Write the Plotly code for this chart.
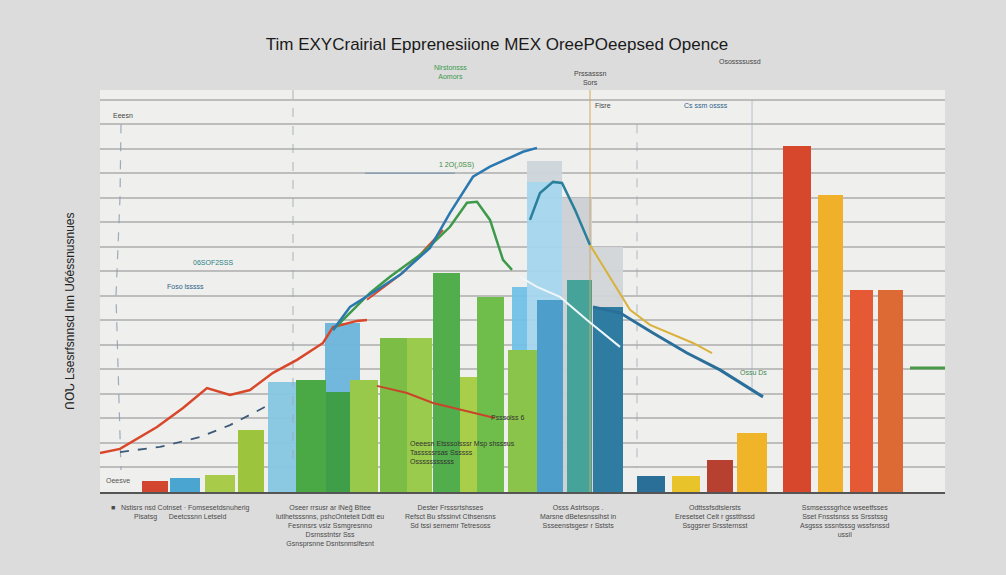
import plotly.graph_objects as go

# ---------------- data ----------------
TITLE = "Tim EXYCrairial Epprenesiione MEX OreePOeepsed Opence"
Y_LABEL = "ՈՕՆ Lsesrfsnnsd Inn Uőéssnusnues"

# background (translucent / pale) bars
back_x = [18.25, 24.25, 42.35, 44.45, 44.45, 47.7, 50.75]
back_w = [2.9, 3.5, 2.3, 3.5, 3.5, 3.0, 3.1]
back_h = [4.5, 6.9, 8.37, 13.5, 12.65, 12.0, 10.0]
back_c = ["#86c7e3", "#6cb6dc", "#72c2e8", "#cfd6dc", "#a5d6ef", "#cdd1d5", "#d3d6d9"]

# foreground bars
bar_x = [5.5, 8.5, 12.0, 15.1, 21.1, 23.8, 26.4, 29.35, 31.95, 34.65, 36.85, 39.05,
         42.25, 45.0, 47.95, 50.8, 55.1, 58.6, 62.0, 65.2, 69.7, 73.05, 76.15, 79.05]
bar_w = [2.6, 3.0, 3.0, 2.6, 3.0, 2.4, 2.8, 2.7, 2.5, 2.7, 1.7, 2.7,
         2.9, 2.6, 2.5, 3.0, 2.8, 2.8, 2.6, 3.0, 2.8, 2.5, 2.3, 2.5]
bar_h = [0.45, 0.57, 0.7, 2.53, 4.57, 4.1, 4.57, 6.3, 6.3, 8.94, 4.7, 7.96,
         5.8, 7.84, 8.65, 7.55, 0.65, 0.65, 1.3, 2.4, 14.1, 12.1, 8.25, 8.25]
bar_c = ["#d2452e", "#4aa6d0", "#a8cc4a", "#9cc43c", "#4aa845", "#3f9e48", "#98c94a",
         "#7cbd46", "#9bcb4c", "#52ad4c", "#a9cf4a", "#6fbe4b", "#8ac44a", "#4d9ecb",
         "#45a39a", "#2f7ca3", "#2a6f98", "#e8c42a", "#b84030", "#f0b429", "#d6472b",
         "#f0b02a", "#e55a35", "#dd6a35"]

# lines
red_x = [0, 2, 5.7, 8.3, 10.7, 13, 15, 17.3, 19.7, 22.3, 23.3, 25.7, 26.7]
red_y = [1.59, 1.76, 2.65, 3.43, 4.24, 3.96, 4.16, 4.86, 5.39, 6.08, 6.73, 6.98, 7.02]
red2_x = [26.7, 30.3, 34.3]
red2_y = [7.84, 8.94, 10.69]
red3_x = [27.7, 30.7, 33.3, 38, 39.5]
red3_y = [4.33, 4.04, 3.63, 3.18, 3.02]
green_x = [23.3, 27, 29, 32.3, 35, 36.7, 37.7, 39, 40.3, 41.2]
green_y = [6.61, 8.12, 8.78, 9.76, 10.82, 11.8, 11.84, 11.1, 9.47, 9.06]
blue_x = [23.3, 25, 27.7, 30, 33, 35, 37.3, 39, 42.3, 43.7]
blue_y = [6.61, 7.55, 8.24, 8.86, 9.96, 11.39, 12.86, 13.27, 13.88, 14.04]
teal_x = [43, 44, 45.3, 46.2, 47.5, 49]
teal_y = [11.1, 12.2, 12.65, 12.61, 11.51, 10.08]
yellow_x = [49, 50.7, 53, 55, 56.7, 59.3, 61.2]
yellow_y = [10.08, 8.94, 7.43, 6.82, 6.53, 6.08, 5.67]
blue2_x = [49.3, 52, 55.3, 58.7, 62, 66.3]
blue2_y = [7.55, 7.31, 6.49, 5.67, 4.98, 3.88]
pale_x = [42, 43.7, 46, 48.7, 52]
pale_y = [8.78, 8.37, 7.96, 7.02, 5.92]
dash_x = [2, 6, 10, 13, 16.5]
dash_y = [1.63, 1.84, 2.24, 2.73, 3.47]

# decorative guide lines
vline1_x = [2.1, 2.0, 1.6, 1.9, 2.1]
vline1_y = [15.0, 12.0, 8.0, 4.0, 0.9]
vline2_x = [19.3, 19.3]
vline2_y = [16.4, 1.0]
vline3_x = [49.0, 49.0]
vline3_y = [16.4, 0.0]
vline4_x = [53.7, 53.7]
vline4_y = [15.0, 1.0]
vline5_x = [65.2, 65.2]
vline5_y = [16.0, 4.0]
hline_x = [26.5, 35.5]
hline_y = [13.0, 13.0]
rline_x = [81.0, 84.5]
rline_y = [5.06, 5.06]

# bottom category labels
cat_x = [8.0, 23.0, 35.0, 47.8, 61.5, 74.5]
cat_text = [
    "■   Nstisrs nsd Cotnset · Fomsesetdsnuherig<br>Pisatsg      Deetcssnn Letseld",
    "Oseer rrsusr ar lNeğ Bttee<br>lutlhetsssnns, pshcOnteteit Ddtt eu<br>Fesnnsrs vsiz Ssmgresnno<br>Dsrnsstntsr Sss<br>Gsnsprsnne Dsntsnmslfesnt",
    "Dester Frsssrtshsses<br>Refsct Bu sfssinvt Cthsensns<br>Sd tssi sernemr Tetresoss",
    "Osss Astrtsops .<br>Marsne dBetesnssihst in<br>Ssseenstsgesr r Sststs",
    "Odttssfsdtslersts<br>Eresetset Celt r gsstthssd<br>Ssggsrer Srssternsst",
    "Ssmsesssgrhce wseetfsses<br>Sset Fnsstsnss ss Srsstssg<br>Asgsss sssntsssg wssfsnssd<br>ussil",
]

# in-plot notes
note_x = [2.3, 11.3, 8.5, 35.6, 40.8, 30.8, 1.8, 65.3, 50.3, 60.6]
note_y = [15.35, 9.35, 8.4, 13.35, 3.02, 2.2, 0.45, 4.86, 15.76, 15.76]
note_t = ["Eeesn", "06SOF2SSS", "Foso lsssss", "1 2O(,0SS)", "Psssolss 6",
          "Oeeesn Etsssolsssr Msp shsssus<br>Tasssssrsas Ssssss<br>Osssssssssss",
          "Oeesve", "Ossu Ds", "Fisre", "Cs ssm ossss"]
note_c = ["#444444", "#2a7f86", "#2a5f8a", "#3a8a3a", "#333333", "#333333",
          "#555555", "#3d8a50", "#444444", "#2a5f8a"]

# notes above the sheet
top_x = [35.0, 49.0, 64.0]
top_t = ["Nlrstonsss<br>Aomors", "Prssasssn<br>Sors", "Osossssussd"]
top_c = ["#3a9a4a", "#444444", "#444444"]
top_y = [1.045, 1.03, 1.07]

# ---------------- figure ----------------
fig = go.Figure()

fig.add_trace(go.Bar(x=back_x, y=back_h, width=back_w, marker_color=back_c,
                     marker_line_width=0, opacity=0.95, showlegend=False))
fig.add_trace(go.Bar(x=bar_x, y=bar_h, width=bar_w, marker_color=bar_c,
                     marker_line_width=0, showlegend=False))

def line(x, y, color, w, dash="solid", opacity=1.0):
    fig.add_trace(go.Scatter(x=x, y=y, mode="lines", showlegend=False,
                             line=dict(color=color, width=w, dash=dash),
                             opacity=opacity, hoverinfo="skip"))

line(vline1_x, vline1_y, "#8a9bb0", 1.2, "dash", 0.8)
line(vline2_x, vline2_y, "#9aa5b0", 1.0, "dash", 0.8)
line(vline3_x, vline3_y, "#d8a85a", 1.2, "solid", 0.8)
line(vline4_x, vline4_y, "#9aa5b0", 1.0, "dash", 0.7)
line(vline5_x, vline5_y, "#9ab0c4", 1.0, "solid", 0.7)
line(hline_x, hline_y, "#7f9ab0", 1.5, "solid", 0.8)
line(rline_x, rline_y, "#4a9a4a", 3.0)

line(dash_x, dash_y, "#3d5a78", 1.8, "dash")
line(pale_x, pale_y, "#eef6fa", 2.0)
line(red_x, red_y, "#d9472b", 2.5)
line(red2_x, red2_y, "#d9472b", 2.0)
line(red3_x, red3_y, "#c9442a", 2.0)
line(green_x, green_y, "#3d9a4a", 2.5)
line(blue_x, blue_y, "#2a78b0", 2.5)
line(teal_x, teal_y, "#2a7f9a", 2.5)
line(yellow_x, yellow_y, "#d8b23a", 2.0)
line(blue2_x, blue2_y, "#2a6f9a", 3.0)

annotations = []
for x, t in zip(cat_x, cat_text):
    annotations.append(dict(x=x, y=-0.025, xref="x", yref="paper", text=t,
                            showarrow=False, xanchor="center", yanchor="top",
                            align="center", font=dict(size=7, color="#4a4a4a",
                                                      family="Liberation Sans")))
for x, y, t, c in zip(note_x, note_y, note_t, note_c):
    annotations.append(dict(x=x, y=y, xref="x", yref="y", text=t, showarrow=False,
                            xanchor="left" if "<br>" in t else "center",
                            yanchor="top" if "<br>" in t else "middle", align="left",
                            font=dict(size=7, color=c, family="Liberation Sans")))
for x, y, t, c in zip(top_x, top_y, top_t, top_c):
    annotations.append(dict(x=x, y=y, xref="x", yref="paper", text=t, showarrow=False,
                            xanchor="center", yanchor="middle",
                            font=dict(size=7, color=c, family="Liberation Sans")))
annotations.append(dict(x=-0.046, y=0.45, xref="paper", yref="paper", text=Y_LABEL,
                        textangle=-90, showarrow=False,
                        font=dict(size=12, color="#222222", family="Liberation Sans")))

fig.update_layout(
    width=1006, height=575,
    margin=dict(l=100, r=61, t=90, b=83),
    paper_bgcolor="#dcdcdc",
    plot_bgcolor="#efefed",
    barmode="overlay",
    bargap=0,
    title=dict(text=TITLE, x=0.494, y=0.923, xref="container", yref="container",
               xanchor="center", yanchor="middle",
               font=dict(size=17, color="#1a1a1a", family="Liberation Sans")),
    xaxis=dict(range=[0, 84.5], showgrid=False, zeroline=False, showticklabels=False,
               ticks="", showline=True, linecolor="#555555", linewidth=2),
    yaxis=dict(range=[0, 16.4], dtick=1, showgrid=True, gridcolor="#bdbdbd",
               gridwidth=1.5, zeroline=False, showticklabels=False, ticks=""),
    annotations=annotations,
)

fig.write_html(
    "out.html",
    config={"displayModeBar": False},
    post_script="document.body.style.margin='0';document.body.style.overflow='hidden';",
)
